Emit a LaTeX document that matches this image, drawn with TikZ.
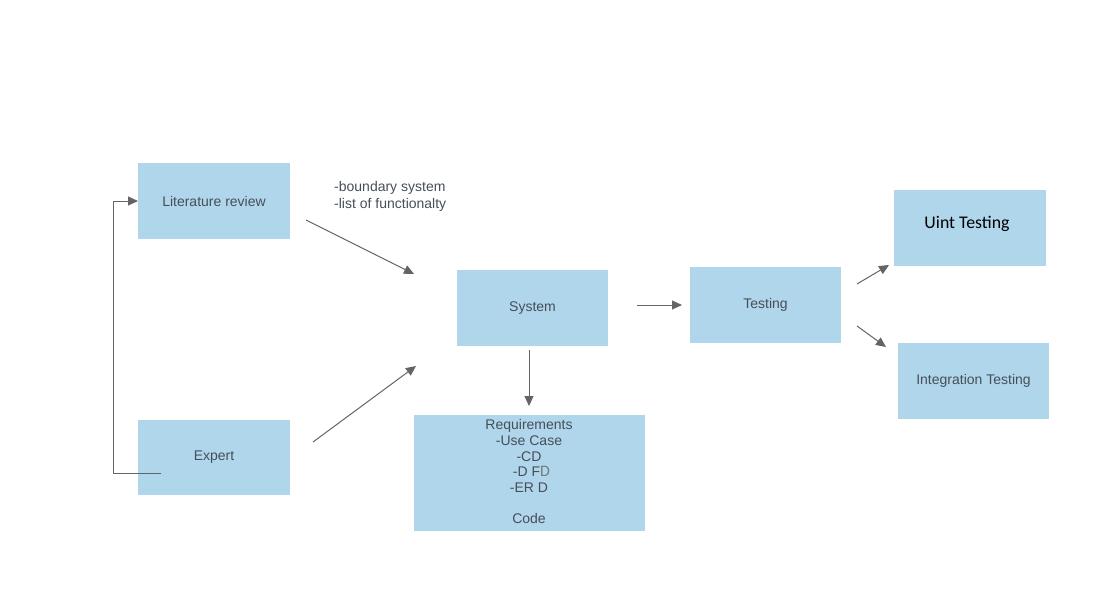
\documentclass[tikz,border=0pt]{standalone}
\usepackage{fontspec}
\setmainfont{Liberation Sans}
\newfontfamily\calib{Carlito}
\usetikzlibrary{arrows.meta}
\definecolor{boxblue}{RGB}{176,214,236}
\definecolor{txtgray}{RGB}{70,78,88}
\definecolor{linegray}{RGB}{100,100,100}
\tikzset{
  box/.style={fill=boxblue, draw=none, inner sep=0pt, text=txtgray, font=\fontsize{14}{15.7}\selectfont, align=center},
  conn/.style={draw=linegray, line width=1pt, -{Triangle[length=10pt,width=9pt,fill=linegray]}},
}
\begin{document}
\begin{tikzpicture}[x=1pt,y=-1pt]
\useasboundingbox (0,0) rectangle (1118,597);
% boxes
\node[box, minimum width=152, minimum height=76] (lit) at (214,201) {Literature review};
\node[box, minimum width=152, minimum height=75] (exp) at (214,457.5) {Expert};
\node[box, minimum width=151, minimum height=76] (sys) at (532.5,308) {System};
\node[box, minimum width=231, minimum height=116] (req) at (529.5,473) {};
\node[box, minimum width=151, minimum height=76] (tst) at (765.5,305) {Testing};
\node[box, minimum width=152, minimum height=76] (uint) at (970,228) {};
\node[text=black, font=\calib\fontsize{17.8}{20}\selectfont] (uintt) at (967,224) {Uint Testing};
\node[box, minimum width=151, minimum height=76] (integ) at (973.5,381) {Integration Testing};
% requirements text
\node[text=txtgray, font=\fontsize{14}{15.7}\selectfont, align=center, anchor=north] (reqt) at (529,416)
  {Requirements\\-Use Case\\-CD\\\hspace{5pt}-D F{\calib\fontsize{16}{15.7}\selectfont\color{txtgray!75}D}\\-ER D\\[15.7pt]Code};
% label
\node[text=txtgray, font=\fontsize{14}{17}\selectfont, align=left, anchor=north west, inner sep=0pt] (lbl) at (334,181)
  {-boundary system\\-list of functionalty};
% free-end coordinates
\coordinate (a1) at (306,220);
\coordinate (a2) at (414,274);
\coordinate (b1) at (313,442);
\coordinate (b2) at (416,366);
\coordinate (c1) at (529,350);
\coordinate (c2) at (529,406);
\coordinate (d1) at (637,305);
\coordinate (d2) at (682,305);
\coordinate (e1) at (857,284);
\coordinate (e2) at (889,265);
\coordinate (f1) at (857,326);
\coordinate (f2) at (886,347);
\coordinate (g1) at (161,473);
\coordinate (g2) at (113,473);
\coordinate (g3) at (113,201);
\coordinate (g4) at (138,201);
% connectors
\draw[conn] (a1) -- (a2);
\draw[conn] (b1) -- (b2);
\draw[conn] (c1) -- (c2);
\draw[conn] (d1) -- (d2);
\draw[conn] (e1) -- (e2);
\draw[conn] (f1) -- (f2);
\draw[conn] (g1) -- (g2) -- (g3) -- (g4);
\end{tikzpicture}
\end{document}
